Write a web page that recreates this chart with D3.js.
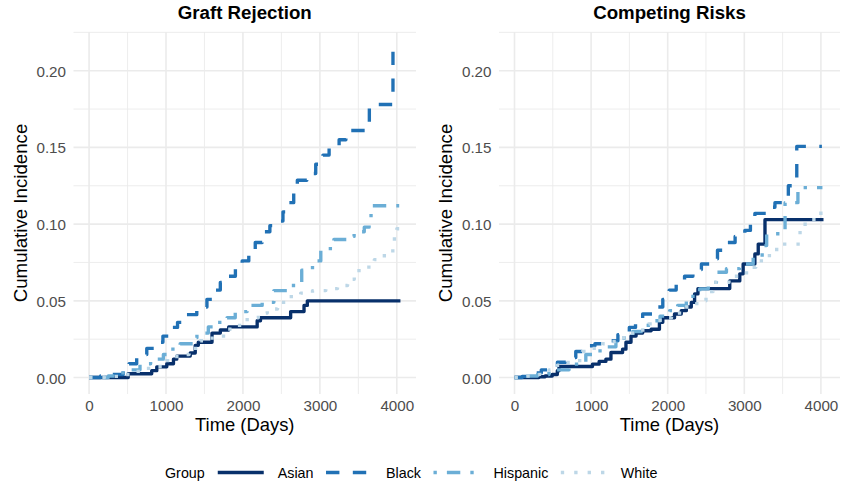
<!DOCTYPE html>
<html>
<head>
<meta charset="utf-8">
<script src="https://cdn.jsdelivr.net/npm/d3@7"></script>
<style>
  html, body { margin: 0; padding: 0; background: #fff; }
  svg { display: block; font-family: "Liberation Sans", Arial, Helvetica, sans-serif; }
</style>
</head>
<body>
<svg id="chart" width="841" height="484"></svg>
<script>
// ---------------- DATA ----------------
const groups = ["Asian", "Black", "Hispanic", "White"];
const panelTitles = ["Graft Rejection", "Competing Risks"];
const xTicks = [0, 1000, 2000, 3000, 4000];
const yTicks = [0.00, 0.05, 0.10, 0.15, 0.20];
const yTickLabels = ["0.00", "0.05", "0.10", "0.15", "0.20"];

// Graft Rejection — step points (time in days, cumulative incidence)
const grAsianT = [0, 509, 814, 880, 1010, 1097, 1140, 1315, 1380, 1420, 1598, 1706, 1815, 2185, 2228, 2620, 2794, 2837, 4047];
const grAsianY = [0, 0.0025, 0.0045, 0.007, 0.009, 0.012, 0.014, 0.016, 0.021, 0.023, 0.029, 0.031, 0.033, 0.037, 0.039, 0.043, 0.047, 0.050, 0.050];

const grBlackT = [0, 150, 300, 444, 520, 619, 750, 880, 960, 1053, 1150, 1271, 1400, 1532, 1620, 1706, 1800, 1902, 1990, 2076, 2160, 2250, 2350, 2446, 2520, 2598, 2660, 2707, 2830, 2946, 3040, 3120, 3250, 3338, 3643, 3950];
const grBlackY = [0, 0.001, 0.002, 0.0055, 0.009, 0.015, 0.019, 0.023, 0.027, 0.0327, 0.036, 0.041, 0.046, 0.051, 0.057, 0.062, 0.066, 0.071, 0.076, 0.082, 0.088, 0.095, 0.099, 0.102, 0.108, 0.114, 0.121, 0.1286, 0.133, 0.139, 0.145, 0.150, 0.155, 0.161, 0.178, 0.2145];

const grHispT = [0, 250, 400, 500, 662, 800, 966, 1053, 1184, 1358, 1402, 1550, 1650, 1794, 1900, 2055, 2250, 2402, 2620, 2764, 2904, 3012, 3182, 3404, 3445, 3577, 3640, 3665, 4031];
const grHispY = [0, 0.001, 0.003, 0.005, 0.009, 0.012, 0.015, 0.0185, 0.022, 0.026, 0.029, 0.033, 0.036, 0.039, 0.043, 0.047, 0.049, 0.0567, 0.060, 0.070, 0.076, 0.084, 0.090, 0.092, 0.095, 0.098, 0.100, 0.112, 0.112];

const grWhiteT = [0, 200, 400, 550, 700, 923, 1000, 1141, 1300, 1445, 1600, 1794, 1900, 2055, 2200, 2316, 2450, 2577, 2750, 2904, 3077, 3229, 3360, 3447, 3599, 3708, 3838, 3948, 3969, 4000, 4034];
const grWhiteY = [0, 0.0008, 0.002, 0.004, 0.006, 0.0087, 0.011, 0.015, 0.019, 0.024, 0.027, 0.0316, 0.034, 0.039, 0.042, 0.0447, 0.049, 0.0527, 0.055, 0.0567, 0.058, 0.060, 0.064, 0.0697, 0.072, 0.0769, 0.0806, 0.085, 0.0937, 0.097, 0.1007];

// Competing Risks
const crAsianT = [0, 319, 400, 493, 559, 581, 1018, 1105, 1193, 1259, 1411, 1455, 1521, 1587, 1673, 1784, 1892, 1936, 2089, 2177, 2243, 2308, 2351, 2395, 2810, 2941, 2985, 3138, 3182, 3270, 4034];
const crAsianY = [0, 0.0005, 0.001, 0.002, 0.0044, 0.0072, 0.0087, 0.0105, 0.012, 0.0163, 0.0185, 0.023, 0.027, 0.029, 0.0305, 0.0315, 0.036, 0.039, 0.0414, 0.0436, 0.046, 0.049, 0.0545, 0.058, 0.063, 0.0676, 0.074, 0.0806, 0.087, 0.1029, 0.1029];

const crBlackT = [0, 100, 228, 350, 450, 560, 669, 800, 931, 1050, 1193, 1350, 1499, 1580, 1673, 1800, 1936, 2020, 2111, 2220, 2329, 2440, 2548, 2650, 2767, 2880, 3007, 3080, 3138, 3300, 3400, 3575, 3685, 4013];
const crBlackY = [0, 0.0008, 0.003, 0.005, 0.0065, 0.010, 0.013, 0.017, 0.0207, 0.022, 0.024, 0.028, 0.0327, 0.037, 0.0414, 0.046, 0.051, 0.057, 0.062, 0.066, 0.0704, 0.074, 0.0774, 0.083, 0.088, 0.092, 0.0959, 0.101, 0.107, 0.111, 0.114, 0.125, 0.1507, 0.1507];

const crHispT = [0, 150, 300, 450, 538, 712, 931, 1062, 1193, 1324, 1430, 1543, 1680, 1805, 1900, 2024, 2130, 2243, 2330, 2417, 2530, 2636, 2767, 2941, 3116, 3233, 3292, 3532, 3700, 4020];
const crHispY = [0, 0.001, 0.002, 0.004, 0.005, 0.0087, 0.015, 0.0174, 0.020, 0.024, 0.027, 0.030, 0.034, 0.037, 0.040, 0.0436, 0.047, 0.050, 0.054, 0.0578, 0.062, 0.0686, 0.071, 0.074, 0.0785, 0.086, 0.0937, 0.114, 0.1238, 0.1238];

const crWhiteT = [0, 100, 250, 330, 450, 560, 700, 887, 1000, 1150, 1300, 1450, 1600, 1750, 1900, 2050, 2200, 2380, 2500, 2591, 2800, 3029, 3150, 3247, 3423, 3728, 3794, 4000];
const crWhiteY = [0, 0.001, 0.002, 0.0035, 0.005, 0.008, 0.011, 0.017, 0.019, 0.022, 0.026, 0.029, 0.031, 0.035, 0.039, 0.042, 0.046, 0.050, 0.056, 0.062, 0.066, 0.0719, 0.076, 0.0795, 0.087, 0.0963, 0.1029, 0.1129];

const groupColors = ["#08306B", "#2171B5", "#6BAED6", "#BDD7E7"];

// ---------------- BUILD ----------------
const zip = (t, y) => t.map((d, i) => ({ t: d, y: y[i] }));
const panelData = [
  [zip(grAsianT, grAsianY), zip(grBlackT, grBlackY), zip(grHispT, grHispY), zip(grWhiteT, grWhiteY)],
  [zip(crAsianT, crAsianY), zip(crBlackT, crBlackY), zip(crHispT, crHispY), zip(crWhiteT, crWhiteY)]
];

const lw = 3.35;
const dashes = [null, `${4*lw},${4*lw}`, `${lw},${3*lw},${4*lw},${3*lw}`, `${lw},${3*lw}`];

const svg = d3.select("#chart");
const allT = panelData.flat(2).map(d => d.t);
const allY = panelData.flat(2).map(d => d.y);
const xMin = d3.min(allT), xMax = d3.max(allT);
const yMin = d3.min(allY), yMax = d3.max(allY);
const xr = xMax - xMin, yr = yMax - yMin;

const panels = [{ x0: 73.5, x1: 416 }, { x0: 499, x1: 840 }];
const py0 = 32, py1 = 394;

const y = d3.scaleLinear().domain([yMin - 0.05 * yr, yMax + 0.05 * yr]).range([py1, py0]);

panels.forEach((p, pi) => {
  const x = d3.scaleLinear().domain([xMin - 0.05 * xr, xMax + 0.05 * xr]).range([p.x0, p.x1]);
  const g = svg.append("g");

  // grid minor
  const xMinor = d3.range(500, 4500, 1000).filter(v => v >= x.domain()[0] && v <= x.domain()[1]);
  const yMinor = d3.range(0.025, 0.25, 0.05).filter(v => v >= y.domain()[0] && v <= y.domain()[1]);
  g.selectAll(".xmin").data(xMinor).join("line")
    .attr("x1", d => x(d)).attr("x2", d => x(d)).attr("y1", py0).attr("y2", py1)
    .attr("stroke", "#EBEBEB").attr("stroke-width", 0.9);
  g.selectAll(".ymin").data(yMinor).join("line")
    .attr("x1", p.x0).attr("x2", p.x1).attr("y1", d => y(d)).attr("y2", d => y(d))
    .attr("stroke", "#EBEBEB").attr("stroke-width", 0.9);
  // grid major
  g.selectAll(".xmaj").data(xTicks).join("line")
    .attr("x1", d => x(d)).attr("x2", d => x(d)).attr("y1", py0).attr("y2", py1)
    .attr("stroke", "#EBEBEB").attr("stroke-width", 1.6);
  g.selectAll(".ymaj").data(yTicks).join("line")
    .attr("x1", p.x0).attr("x2", p.x1).attr("y1", d => y(d)).attr("y2", d => y(d))
    .attr("stroke", "#EBEBEB").attr("stroke-width", 1.6);

  // axes via d3 axis generators (no lines/ticks, theme_minimal)
  const xAxis = d3.axisBottom(x).tickValues(xTicks).tickFormat(d3.format("d")).tickSize(0).tickPadding(0);
  const xa = g.append("g").attr("transform", `translate(0,${py1})`).call(xAxis);
  xa.select(".domain").remove();
  xa.selectAll("text").attr("y", 16.8).attr("dy", null).attr("fill", "#4D4D4D")
    .style("font-size", "15.2px").style("font-family", "Liberation Sans, Arial, sans-serif");

  const yAxis = d3.axisLeft(y).tickValues(yTicks).tickFormat((d, i) => yTickLabels[i]).tickSize(0).tickPadding(0);
  const ya = g.append("g").attr("transform", `translate(${p.x0 - 7.5},0)`).call(yAxis);
  ya.select(".domain").remove();
  ya.selectAll("text").attr("x", 0).attr("dy", "0.36em").attr("fill", "#4D4D4D")
    .style("font-size", "15.2px").style("font-family", "Liberation Sans, Arial, sans-serif");

  // lines
  const line = d3.line().x(d => x(d.t)).y(d => y(d.y)).curve(d3.curveStepAfter);
  panelData[pi].forEach((series, gi) => {
    g.append("path").datum(series)
      .attr("d", line)
      .attr("fill", "none")
      .attr("stroke", groupColors[gi])
      .attr("stroke-width", lw)
      .attr("stroke-linecap", "butt")
      .attr("stroke-linejoin", "round")
      .attr("stroke-dasharray", dashes[gi]);
  });

  // titles
  g.append("text").attr("x", (p.x0 + p.x1) / 2).attr("y", 19)
    .attr("text-anchor", "middle").attr("font-weight", "bold").attr("font-size", 18.7)
    .attr("fill", "#000").text(panelTitles[pi]);
  g.append("text").attr("x", (p.x0 + p.x1) / 2).attr("y", 430.5)
    .attr("text-anchor", "middle").attr("font-size", 18.4).attr("fill", "#000").text("Time (Days)");
  const ytx = pi === 0 ? 20 : 445;
  g.append("text").attr("transform", `translate(${ytx + 6.5},${(py0 + py1) / 2}) rotate(-90)`)
    .attr("text-anchor", "middle").attr("font-size", 18.7).attr("fill", "#000").text("Cumulative Incidence");
});

// ---------------- LEGEND ----------------
const lg = svg.append("g");
const ly = 472.5;
const lfs = 14.3;
let cx = 165;
const title = lg.append("text").attr("x", cx).attr("y", ly + 5.2).attr("font-size", lfs).text("Group");
cx += title.node().getComputedTextLength() + 13;
groups.forEach((name, gi) => {
  lg.append("line").attr("x1", cx).attr("x2", cx + 46).attr("y1", ly).attr("y2", ly)
    .attr("stroke", groupColors[gi]).attr("stroke-width", lw)
    .attr("stroke-linecap", "butt").attr("stroke-dasharray", dashes[gi]);
  cx += 46 + 14;
  const t = lg.append("text").attr("x", cx).attr("y", ly + 5.2).attr("font-size", lfs).text(name);
  cx += t.node().getComputedTextLength() + 12.5;
});
</script>
</body>
</html>
